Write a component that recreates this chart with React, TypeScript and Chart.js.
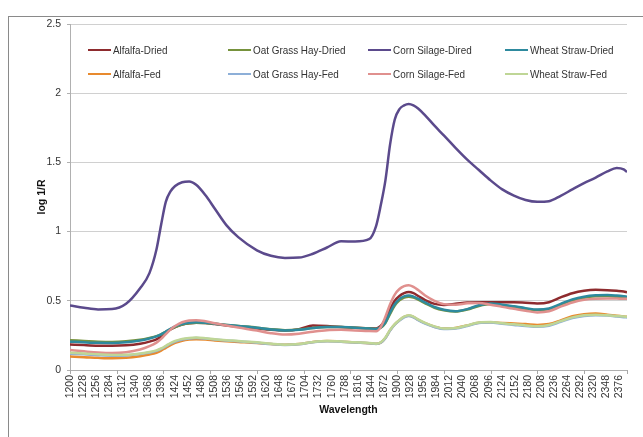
import React, { useEffect, useRef } from "react";
import { Chart, registerables } from "chart.js";
Chart.register(...registerables);

const wavelengths = [
  1200, 1230, 1260, 1290, 1320, 1350, 1370, 1385, 1395, 1405,
  1415, 1425, 1440, 1455, 1470, 1490, 1510, 1535, 1560, 1600,
  1630, 1660, 1690, 1720, 1750, 1780, 1810, 1840, 1855, 1865,
  1875, 1885, 1895, 1905, 1915, 1925, 1935, 1945, 1960, 1980,
  2000, 2025, 2050, 2075, 2100, 2125, 2150, 2175, 2200, 2225,
  2250, 2275, 2300, 2325, 2350, 2370, 2385, 2392,
];

const alfalfaDried = [
  0.185, 0.180, 0.176, 0.175, 0.178, 0.190, 0.205, 0.222, 0.243, 0.268,
  0.293, 0.310, 0.328, 0.338, 0.342, 0.340, 0.332, 0.322, 0.313, 0.300,
  0.290, 0.286, 0.295, 0.322, 0.318, 0.310, 0.306, 0.301, 0.300, 0.318,
  0.368, 0.440, 0.500, 0.535, 0.555, 0.563, 0.555, 0.535, 0.505, 0.478,
  0.470, 0.478, 0.488, 0.490, 0.490, 0.490, 0.490, 0.486, 0.481, 0.490,
  0.525, 0.555, 0.573, 0.580, 0.577, 0.572, 0.567, 0.562,
];
const oatGrassHayDried = [
  0.215, 0.210, 0.205, 0.203, 0.207, 0.218, 0.232, 0.245, 0.258, 0.276,
  0.295, 0.310, 0.328, 0.338, 0.342, 0.340, 0.334, 0.326, 0.318, 0.306,
  0.294, 0.288, 0.292, 0.304, 0.310, 0.310, 0.305, 0.300, 0.296, 0.305,
  0.340, 0.405, 0.465, 0.503, 0.523, 0.530, 0.523, 0.508, 0.482, 0.450,
  0.432, 0.423, 0.437, 0.463, 0.476, 0.468, 0.456, 0.443, 0.433, 0.440,
  0.472, 0.503, 0.522, 0.532, 0.534, 0.530, 0.527, 0.525,
];
const cornSilageDried = [
  0.466, 0.450, 0.438, 0.440, 0.478, 0.590, 0.700, 0.870, 1.050, 1.215,
  1.290, 1.330, 1.357, 1.362, 1.338, 1.262, 1.165, 1.045, 0.960, 0.865,
  0.825, 0.810, 0.812, 0.840, 0.885, 0.930, 0.928, 0.945, 1.040, 1.190,
  1.370, 1.630, 1.810, 1.885, 1.912, 1.922, 1.912, 1.890, 1.840, 1.765,
  1.695, 1.605, 1.520, 1.445, 1.370, 1.305, 1.260, 1.228, 1.215, 1.220,
  1.258, 1.305, 1.350, 1.390, 1.435, 1.460, 1.450, 1.430,
];
const wheatStrawDried = [
  0.205, 0.200, 0.196, 0.195, 0.200, 0.213, 0.228, 0.243, 0.258, 0.278,
  0.298, 0.315, 0.332, 0.342, 0.345, 0.342, 0.335, 0.326, 0.318, 0.305,
  0.292, 0.286, 0.290, 0.303, 0.310, 0.310, 0.306, 0.300, 0.296, 0.308,
  0.345, 0.415, 0.475, 0.512, 0.532, 0.538, 0.530, 0.515, 0.488, 0.455,
  0.435, 0.425, 0.440, 0.468, 0.480, 0.472, 0.460, 0.447, 0.437, 0.445,
  0.478, 0.510, 0.530, 0.540, 0.542, 0.538, 0.533, 0.530,
];
const alfalfaFed = [
  0.097, 0.093, 0.088, 0.085, 0.088, 0.100, 0.112, 0.125, 0.140, 0.160,
  0.180, 0.196, 0.212, 0.220, 0.223, 0.220, 0.214, 0.208, 0.203, 0.195,
  0.187, 0.182, 0.188, 0.203, 0.210, 0.205, 0.199, 0.194, 0.190, 0.198,
  0.232, 0.287, 0.330, 0.360, 0.383, 0.392, 0.383, 0.363, 0.338, 0.313,
  0.299, 0.303, 0.322, 0.342, 0.345, 0.340, 0.336, 0.332, 0.326, 0.332,
  0.358, 0.388, 0.403, 0.408, 0.400, 0.392, 0.387, 0.385,
];
const oatGrassHayFed = [
  0.118, 0.113, 0.107, 0.103, 0.105, 0.115, 0.126, 0.138, 0.152, 0.170,
  0.190, 0.205, 0.220, 0.228, 0.231, 0.227, 0.220, 0.213, 0.207, 0.197,
  0.187, 0.181, 0.186, 0.200, 0.207, 0.204, 0.198, 0.193, 0.188, 0.197,
  0.230, 0.285, 0.327, 0.357, 0.380, 0.390, 0.381, 0.361, 0.335, 0.311,
  0.296, 0.299, 0.318, 0.340, 0.343, 0.334, 0.326, 0.318, 0.312, 0.320,
  0.348, 0.375, 0.390, 0.396, 0.393, 0.387, 0.382, 0.380,
];
const cornSilageFed = [
  0.145, 0.135, 0.126, 0.122, 0.128, 0.148, 0.172, 0.198, 0.225, 0.260,
  0.292, 0.318, 0.345, 0.358, 0.360, 0.352, 0.338, 0.322, 0.307, 0.285,
  0.266, 0.256, 0.262, 0.277, 0.288, 0.290, 0.286, 0.281, 0.280, 0.310,
  0.385, 0.475, 0.545, 0.585, 0.606, 0.612, 0.600, 0.578, 0.538, 0.500,
  0.476, 0.472, 0.482, 0.485, 0.472, 0.456, 0.442, 0.428, 0.416, 0.424,
  0.458, 0.488, 0.508, 0.515, 0.516, 0.516, 0.515, 0.515,
];
const wheatStrawFed = [
  0.125, 0.120, 0.113, 0.108, 0.110, 0.120, 0.130, 0.142, 0.156, 0.175,
  0.195, 0.210, 0.225, 0.232, 0.235, 0.230, 0.222, 0.215, 0.210, 0.200,
  0.190, 0.183, 0.188, 0.203, 0.210, 0.206, 0.200, 0.195, 0.190, 0.200,
  0.235, 0.290, 0.332, 0.362, 0.385, 0.395, 0.386, 0.366, 0.340, 0.315,
  0.300, 0.303, 0.322, 0.343, 0.346, 0.337, 0.330, 0.322, 0.316, 0.325,
  0.353, 0.380, 0.395, 0.400, 0.396, 0.390, 0.386, 0.384,
];

const seriesNames = [
  "Alfalfa-Dried", "Oat Grass Hay-Dried", "Corn Silage-Dired", "Wheat Straw-Dried",
  "Alfalfa-Fed", "Oat Grass Hay-Fed", "Corn Silage-Fed", "Wheat Straw-Fed",
];
const seriesValues = [
  alfalfaDried, oatGrassHayDried, cornSilageDried, wheatStrawDried,
  alfalfaFed, oatGrassHayFed, cornSilageFed, wheatStrawFed,
];
const seriesColors = [
  "#8E2B2E", "#76923C", "#5B4A8C", "#2E8A9E",
  "#E88A2E", "#8DAFD8", "#E0908E", "#BFD696",
];

const xTickLabels = [
  1200, 1228, 1256, 1284, 1312, 1340, 1368, 1396, 1424, 1452, 1480,
  1508, 1536, 1564, 1592, 1620, 1648, 1676, 1704, 1732, 1760, 1788,
  1816, 1844, 1872, 1900, 1928, 1956, 1984, 2012, 2040, 2068, 2096,
  2124, 2152, 2180, 2208, 2236, 2264, 2292, 2320, 2348, 2376,
];
const xTickMarks = [1200, 1300, 1400, 1500, 1600, 1700, 1800, 1900, 2000, 2100, 2200, 2300, 2392];
const yTicks = [0, 0.5, 1, 1.5, 2, 2.5];

const FONT = "'Liberation Sans', Arial, sans-serif";

const tickMarkPlugin = {
  id: "xTickMarks",
  afterDraw(chart: any) {
    const scale = chart.scales.x;
    const ctx = chart.ctx;
    const y = chart.chartArea.bottom;
    ctx.save();
    ctx.strokeStyle = "#a8a8a8";
    ctx.lineWidth = 1;
    ctx.beginPath();
    for (const v of xTickMarks) {
      const x = Math.round(scale.getPixelForValue(v)) + 0.5;
      ctx.moveTo(x, y);
      ctx.lineTo(x, y + 4);
    }
    ctx.stroke();
    ctx.restore();
  },
};

export default function App() {
  const ref = useRef<HTMLCanvasElement | null>(null);

  useEffect(() => {
    if (!ref.current) return;
    const chart = new Chart(ref.current, {
      type: "line",
      data: {
        datasets: seriesNames.map((name, i) => ({
          label: name,
          data: wavelengths.map((w, j) => ({ x: w, y: seriesValues[i][j] })),
          borderColor: seriesColors[i],
          backgroundColor: seriesColors[i],
          borderWidth: 2.5,
          pointRadius: 0,
          cubicInterpolationMode: "monotone" as const,
          fill: false,
          order: seriesNames.length - i,
        })),
      },
      options: {
        responsive: false,
        animation: false,
        layout: { padding: { left: 32, right: 16, top: 24, bottom: 17 } },
        plugins: { legend: { display: false }, tooltip: { enabled: false } },
        scales: {
          x: {
            type: "linear",
            min: 1200,
            max: 2392,
            afterBuildTicks: (scale: any) => {
              scale.ticks = xTickLabels.map((v) => ({ value: v }));
            },
            afterFit: (scale: any) => {
              scale.height = 50;
            },
            ticks: {
              autoSkip: false,
              minRotation: 90,
              maxRotation: 90,
              padding: 5,
              color: "#333",
              font: { family: FONT, size: 10.5 },
              callback: (v: any) => String(v),
            },
            grid: { display: false, drawTicks: false },
            border: { display: true, color: "#b0b0b0", width: 1 },
            title: {
              display: true,
              text: "Wavelength",
              color: "#111",
              font: { family: FONT, size: 10.5, weight: "bold" },
              padding: { top: 4, bottom: 4 },
            },
          },
          y: {
            min: 0,
            max: 2.5,
            afterBuildTicks: (scale: any) => {
              scale.ticks = yTicks.map((v) => ({ value: v }));
            },
            afterFit: (scale: any) => {
              scale.width = 38;
            },
            ticks: {
              padding: 6,
              color: "#333",
              font: { family: FONT, size: 10.5 },
              callback: (v: any) => String(v),
            },
            grid: { color: "#d0d0d0", tickColor: "#b0b0b0", tickLength: 3, lineWidth: 1 },
            border: { display: true, color: "#b0b0b0", width: 1 },
            title: {
              display: true,
              text: "log 1/R",
              color: "#111",
              font: { family: FONT, size: 10.5, weight: "bold" },
              padding: { top: 4, bottom: 4 },
            },
          },
        },
      },
      plugins: [tickMarkPlugin],
    } as any);
    return () => chart.destroy();
  }, []);

  const colLeft = [88, 228, 368, 505];
  const rowTop = [50, 74];

  return (
    <div style={{ position: "fixed", left: 0, top: 0, width: 643, height: 437, background: "#fff", overflow: "hidden" }}>
      <div
        style={{
          position: "absolute",
          left: 8,
          top: 16,
          width: 700,
          height: 500,
          borderLeft: "1px solid #8a8a8a",
          borderTop: "1px solid #8a8a8a",
        }}
      />
      <canvas ref={ref} width={643} height={437} style={{ position: "absolute", left: 0, top: 0, width: 643, height: 437 }} />
      {seriesNames.map((name, i) => {
        const col = i % 4;
        const row = Math.floor(i / 4);
        return (
          <div
            key={name}
            style={{
              position: "absolute",
              left: colLeft[col],
              top: rowTop[row] - 7,
              height: 14,
              display: "flex",
              alignItems: "center",
              whiteSpace: "nowrap",
            }}
          >
            <span style={{ display: "inline-block", width: 23, height: 2.5, background: seriesColors[i] }} />
            <span
              style={{
                display: "inline-block",
                marginLeft: 2,
                fontFamily: FONT,
                fontSize: 11,
                color: "#333",
                transform: "scaleX(0.9)",
                transformOrigin: "left center",
              }}
            >
              {name}
            </span>
          </div>
        );
      })}
    </div>
  );
}
